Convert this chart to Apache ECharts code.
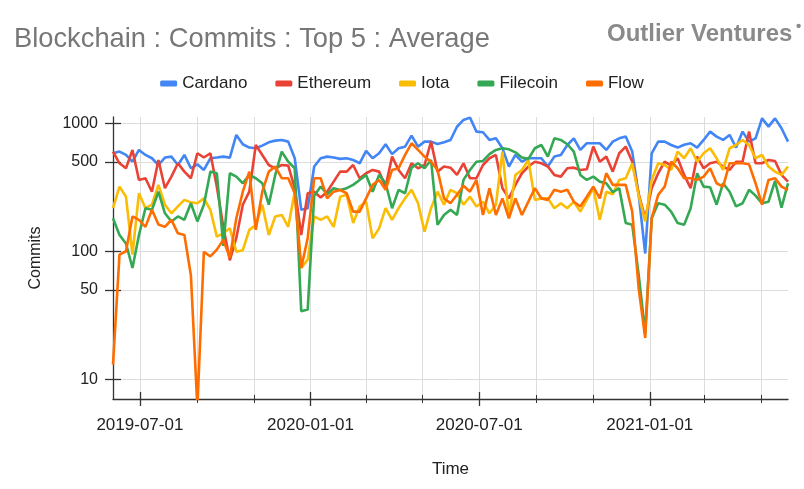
<!DOCTYPE html>
<html><head><meta charset="utf-8">
<script src="https://cdn.jsdelivr.net/npm/echarts@6/dist/echarts.min.js"></script>
<style>html,body{margin:0;padding:0;background:#fff}#c{width:804px;height:489px}</style>
</head><body><div id="c"></div>
<script>
const dates = [
'2019-06-02','2019-06-09','2019-06-16','2019-06-23','2019-06-30','2019-07-07','2019-07-14','2019-07-21','2019-07-28','2019-08-04',
'2019-08-11','2019-08-18','2019-08-25','2019-09-01','2019-09-08','2019-09-15','2019-09-22','2019-09-29','2019-10-06','2019-10-13',
'2019-10-20','2019-10-27','2019-11-03','2019-11-10','2019-11-17','2019-11-24','2019-12-01','2019-12-08','2019-12-15','2019-12-22',
'2019-12-29','2020-01-05','2020-01-12','2020-01-19','2020-01-26','2020-02-02','2020-02-09','2020-02-16','2020-02-23','2020-03-01',
'2020-03-08','2020-03-15','2020-03-22','2020-03-29','2020-04-05','2020-04-12','2020-04-19','2020-04-26','2020-05-03','2020-05-10',
'2020-05-17','2020-05-24','2020-05-31','2020-06-07','2020-06-14','2020-06-21','2020-06-28','2020-07-05','2020-07-12','2020-07-19',
'2020-07-26','2020-08-02','2020-08-09','2020-08-16','2020-08-23','2020-08-30','2020-09-06','2020-09-13','2020-09-20','2020-09-27',
'2020-10-04','2020-10-11','2020-10-18','2020-10-25','2020-11-01','2020-11-08','2020-11-15','2020-11-22','2020-11-29','2020-12-06',
'2020-12-13','2020-12-20','2020-12-27','2021-01-03','2021-01-10','2021-01-17','2021-01-24','2021-01-31','2021-02-07','2021-02-14',
'2021-02-21','2021-02-28','2021-03-07','2021-03-14','2021-03-21','2021-03-28','2021-04-04','2021-04-11','2021-04-18','2021-04-25',
'2021-05-02','2021-05-09','2021-05-16','2021-05-23','2021-05-30'];

const cardano = [583,601,566,501,619,566,533,472,540,549,472,566,445,478,432,533,540,549,
539,811,686,646,638,669,710,732,741,719,533,211,217,459,533,549,540,527,
533,517,487,608,533,583,686,574,638,657,801,657,719,719,689,710,741,940,
1062,1107,861,851,741,763,638,459,566,501,533,533,533,459,549,566,677,763,
619,698,698,698,619,719,763,787,601,276,96,583,719,719,677,646,680,
698,646,741,861,787,741,811,646,861,719,763,1093,942,1093,914,719];

const ethereum = [601,487,445,619,361,372,292,517,311,383,487,419,372,583,540,583,319,155,
85,127,231,292,677,566,472,445,472,467,311,134,284,292,263,292,350,419,
419,472,372,407,432,419,320,549,432,372,487,445,472,719,419,459,450,395,
487,372,372,472,533,566,311,259,330,407,459,501,487,459,395,383,445,450,
432,437,657,501,549,419,583,657,501,280,181,311,407,501,467,533,395,
311,549,445,487,501,459,432,501,501,861,487,487,517,508,395,350];

const iota = [217,320,267,94,284,217,231,330,231,198,224,252,241,237,259,211,130,138,
151,99,102,147,160,231,134,187,192,155,292,74,86,187,176,187,155,267,
276,166,224,244,126,151,217,176,217,259,302,237,142,217,292,231,302,284,
231,267,224,244,198,231,601,187,395,432,517,252,259,259,217,237,217,244,
204,252,311,176,292,279,361,372,487,272,171,361,487,472,432,601,533,
638,501,583,638,533,432,638,677,741,677,533,566,459,419,395,459];

const filecoin = [181,134,115,74,134,217,211,292,198,171,187,176,237,171,231,419,407,110,
407,383,340,395,372,340,231,395,601,501,445,34,35,272,320,279,311,301,
311,330,361,395,292,395,340,217,302,284,450,487,445,517,161,192,211,192,
361,432,501,508,574,619,638,626,593,540,527,638,677,549,763,741,686,601,
395,361,383,350,340,289,311,166,161,65,23,181,237,231,204,166,161,
217,407,320,316,231,340,292,224,237,302,272,237,244,354,219,340];

const flow = [13,94,100,187,176,155,211,162,155,176,138,134,65,6,99,91,103,123,
89,181,292,419,147,292,419,459,372,372,284,74,127,372,372,259,292,301,
284,204,204,259,330,361,302,432,445,566,698,619,549,501,432,259,237,276,
325,292,361,192,311,192,259,181,259,192,244,311,259,252,302,292,302,244,
224,267,320,259,407,330,330,330,204,51,21,181,276,320,501,445,372,
372,361,383,445,340,320,487,487,487,478,340,231,361,372,320,301];

const seriesNames = ['Cardano','Ethereum','Iota','Filecoin','Flow'];
const seriesColors = ['#4285F4','#EA4335','#FBBC04','#34A853','#FF6D01'];
const yTicks = [10, 50, 100, 500, 1000];
const xLabelDates = ['2019-07-01','2020-01-01','2020-07-01','2021-01-01'];
const xTickDates = ['2019-07-01','2019-09-01','2019-11-01','2020-01-01','2020-03-01','2020-05-01',
'2020-07-01','2020-09-01','2020-11-01','2021-01-01','2021-03-01','2021-05-01'];

const ts = d => Date.UTC(+d.slice(0,4), +d.slice(5,7)-1, +d.slice(8,10));
const FONT = '"Liberation Sans", Arial, sans-serif';
const xMin = ts(dates[0]), xMax = ts(dates[dates.length-1]);
const fmtDate = v => new Date(v).toISOString().slice(0,10);
const majors = xLabelDates.map(ts), minors = xTickDates.map(ts);

function xAx(extra) {
  return Object.assign({
    type: 'value', min: xMin, max: xMax, position: 'bottom', scale: true,
    axisLine: {show: false}, axisLabel: {show: false}, axisTick: {show: false},
    splitLine: {show: false}, axisPointer: {show: false}
  }, extra);
}
const xAxes = [
  xAx({
    axisLine: {show: true, lineStyle: {color: '#333', width: 1.3}},
    axisTick: {show: true, length: 4, customValues: minors, lineStyle: {color: '#333', width: 1}},
    axisLabel: {show: true, customValues: majors, formatter: fmtDate, color: '#222', fontSize: 17, fontFamily: FONT, margin: 18},
    splitLine: {show: true, lineStyle: {color: '#dcdcdc', width: 1}},
    name: 'Time', nameLocation: 'middle', nameGap: 62,
    nameTextStyle: {color: '#222', fontSize: 17, fontFamily: FONT}
  }),
  xAx({axisTick: {show: true, inside: true, length: 4, customValues: minors, lineStyle: {color: '#333', width: 1}}}),
  xAx({axisTick: {show: true, length: 7, customValues: majors, lineStyle: {color: '#333', width: 1.3}}}),
  xAx({axisTick: {show: true, inside: true, length: 7, customValues: majors, lineStyle: {color: '#333', width: 1.3}}})
];

function yAx(extra) {
  return Object.assign({
    type: 'log', logBase: 10, min: 7, max: 1120, position: 'left',
    axisLine: {show: false}, axisLabel: {show: false}, axisTick: {show: false},
    splitLine: {show: false}
  }, extra);
}
const yAxes = [
  yAx({
    axisLine: {show: true, lineStyle: {color: '#333', width: 1.3}},
    axisTick: {show: true, length: 8, customValues: yTicks, lineStyle: {color: '#333', width: 1.3}},
    axisLabel: {show: true, customValues: yTicks, color: '#222', fontSize: 16, fontFamily: FONT, margin: 15,
      formatter: v => String(Math.round(v))},
    splitLine: {show: true, lineStyle: {color: '#dcdcdc', width: 1}},
    name: 'Commits', nameLocation: 'middle', nameGap: 69, nameRotate: 90,
    nameTextStyle: {color: '#222', fontSize: 16, fontFamily: FONT}
  }),
  yAx({axisTick: {show: true, inside: true, length: 8, customValues: yTicks, lineStyle: {color: '#333', width: 1.3}}})
];

const values = [cardano, ethereum, iota, filecoin, flow];
const series = seriesNames.map((n, k) => ({
  name: n, type: 'line', xAxisIndex: 0, yAxisIndex: 0,
  data: dates.map((d, i) => [ts(d), values[k][i]]),
  showSymbol: false, symbol: 'none',
  lineStyle: {width: 2.6, color: seriesColors[k]},
  itemStyle: {color: seriesColors[k]},
  clip: true, z: 2 + k
}));

const chart = echarts.init(document.getElementById('c'), null, {renderer: 'canvas'});
chart.setOption({
  animation: false,
  backgroundColor: '#fff',
  title: {
    text: 'Blockchain : Commits : Top 5 : Average', left: 9, top: 21,
    textStyle: {color: '#777', fontSize: 27.3, fontWeight: 'normal', fontFamily: FONT}
  },
  graphic: [
    {type: 'text', left: 607, top: 22, style: {text: 'Outlier Ventures', fill: '#8a8a8a', font: 'bold 24px ' + FONT}},
    {type: 'text', left: 796, top: 19, style: {text: '•', fill: '#8a8a8a', font: 'bold 15px ' + FONT}}
  ],
  legend: {
    top: 70, left: 'center', itemWidth: 17, itemHeight: 6, itemGap: 28, icon: 'roundRect',
    textStyle: {color: '#222', fontSize: 17, fontFamily: FONT},
    data: seriesNames
  },
  grid: {left: 113, right: 16, top: 117, bottom: 90, containLabel: false},
  xAxis: xAxes,
  yAxis: yAxes,
  series: series
});
</script></body></html>
